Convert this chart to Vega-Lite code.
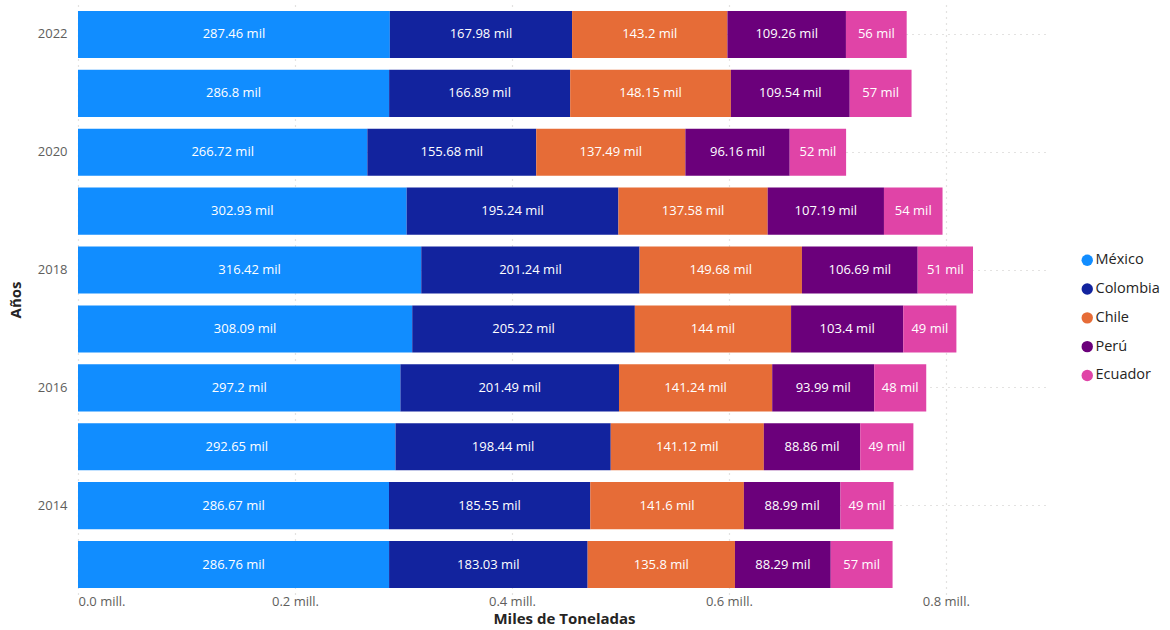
{
  "$schema": "https://vega.github.io/schema/vega-lite/v6.json",
  "width": 972,
  "height": 589,
  "autosize": {"type": "none"},
  "padding": {"left": 78, "top": 5, "right": 120, "bottom": 36},
  "background": "#ffffff",
  "config": {
    "font": "Open Sans",
    "view": {"stroke": null},
    "axis": {"domain": false, "ticks": false}
  },
  "data": {
    "values": [
      {"y": "2022", "c": "México", "v": 287.46}, {"y": "2022", "c": "Colombia", "v": 167.98}, {"y": "2022", "c": "Chile", "v": 143.2}, {"y": "2022", "c": "Perú", "v": 109.26}, {"y": "2022", "c": "Ecuador", "v": 56},
      {"y": "2021", "c": "México", "v": 286.8}, {"y": "2021", "c": "Colombia", "v": 166.89}, {"y": "2021", "c": "Chile", "v": 148.15}, {"y": "2021", "c": "Perú", "v": 109.54}, {"y": "2021", "c": "Ecuador", "v": 57},
      {"y": "2020", "c": "México", "v": 266.72}, {"y": "2020", "c": "Colombia", "v": 155.68}, {"y": "2020", "c": "Chile", "v": 137.49}, {"y": "2020", "c": "Perú", "v": 96.16}, {"y": "2020", "c": "Ecuador", "v": 52},
      {"y": "2019", "c": "México", "v": 302.93}, {"y": "2019", "c": "Colombia", "v": 195.24}, {"y": "2019", "c": "Chile", "v": 137.58}, {"y": "2019", "c": "Perú", "v": 107.19}, {"y": "2019", "c": "Ecuador", "v": 54},
      {"y": "2018", "c": "México", "v": 316.42}, {"y": "2018", "c": "Colombia", "v": 201.24}, {"y": "2018", "c": "Chile", "v": 149.68}, {"y": "2018", "c": "Perú", "v": 106.69}, {"y": "2018", "c": "Ecuador", "v": 51},
      {"y": "2017", "c": "México", "v": 308.09}, {"y": "2017", "c": "Colombia", "v": 205.22}, {"y": "2017", "c": "Chile", "v": 144}, {"y": "2017", "c": "Perú", "v": 103.4}, {"y": "2017", "c": "Ecuador", "v": 49},
      {"y": "2016", "c": "México", "v": 297.2}, {"y": "2016", "c": "Colombia", "v": 201.49}, {"y": "2016", "c": "Chile", "v": 141.24}, {"y": "2016", "c": "Perú", "v": 93.99}, {"y": "2016", "c": "Ecuador", "v": 48},
      {"y": "2015", "c": "México", "v": 292.65}, {"y": "2015", "c": "Colombia", "v": 198.44}, {"y": "2015", "c": "Chile", "v": 141.12}, {"y": "2015", "c": "Perú", "v": 88.86}, {"y": "2015", "c": "Ecuador", "v": 49},
      {"y": "2014", "c": "México", "v": 286.67}, {"y": "2014", "c": "Colombia", "v": 185.55}, {"y": "2014", "c": "Chile", "v": 141.6}, {"y": "2014", "c": "Perú", "v": 88.99}, {"y": "2014", "c": "Ecuador", "v": 49},
      {"y": "2013", "c": "México", "v": 286.76}, {"y": "2013", "c": "Colombia", "v": 183.03}, {"y": "2013", "c": "Chile", "v": 135.8}, {"y": "2013", "c": "Perú", "v": 88.29}, {"y": "2013", "c": "Ecuador", "v": 57}
    ]
  },
  "transform": [
    {"calculate": "indexof(['México','Colombia','Chile','Perú','Ecuador'], datum.c)", "as": "k"},
    {"calculate": "format(datum.v, '.2~f') + ' mil'", "as": "label"}
  ],
  "encoding": {
    "y": {
      "field": "y",
      "type": "nominal",
      "sort": "descending",
      "scale": {"paddingInner": 0.2, "paddingOuter": 0.1},
      "axis": {
        "title": "Años",
        "values": ["2022", "2020", "2018", "2016", "2014"],
        "labelFontSize": 13,
        "labelColor": "#605E5C",
        "labelPadding": 11,
        "titleFontSize": 15,
        "titleFontWeight": "bold",
        "titleColor": "#252423",
        "titlePadding": 14,
        "grid": true,
        "gridDash": [1, 5],
        "gridColor": "#C8C6C4",
        "gridWidth": 1.2
      }
    }
  },
  "layer": [
    {
      "mark": {"type": "bar"},
      "encoding": {
        "x": {
          "field": "v",
          "type": "quantitative",
          "stack": "zero",
          "scale": {"domain": [0, 896], "nice": false},
          "axis": {
            "title": "Miles de Toneladas",
            "values": [0, 200, 400, 600, 800],
            "labelExpr": "format(datum.value / 1000, '.1f') + ' mill.'",
            "labelFontSize": 13,
            "labelColor": "#605E5C",
            "labelPadding": 1,
            "titleFontSize": 15,
            "titleFontWeight": "bold",
            "titleColor": "#252423",
            "titlePadding": 3,
            "grid": true,
            "gridDash": [1, 5],
            "gridColor": "#C8C6C4",
            "gridWidth": 1.2
          }
        },
        "color": {
          "field": "c",
          "type": "nominal",
          "scale": {
            "domain": ["México", "Colombia", "Chile", "Perú", "Ecuador"],
            "range": ["#118DFF", "#12239E", "#E66C37", "#6B007B", "#E044A7"]
          },
          "legend": {
            "title": null,
            "orient": "none",
            "legendX": 1002,
            "legendY": 248,
            "symbolType": "circle",
            "symbolSize": 130,
            "symbolStrokeWidth": 0,
            "labelFontSize": 14.5,
            "labelColor": "#252423",
            "labelOffset": 1,
            "rowPadding": 13.8
          }
        },
        "order": {"field": "k", "type": "quantitative"}
      }
    },
    {
      "mark": {"type": "text", "color": "#ffffff", "fontSize": 13, "baseline": "middle"},
      "encoding": {
        "x": {"field": "v", "type": "quantitative", "stack": "zero", "bandPosition": 0.5},
        "text": {"field": "label"},
        "order": {"field": "k", "type": "quantitative"}
      }
    }
  ]
}
